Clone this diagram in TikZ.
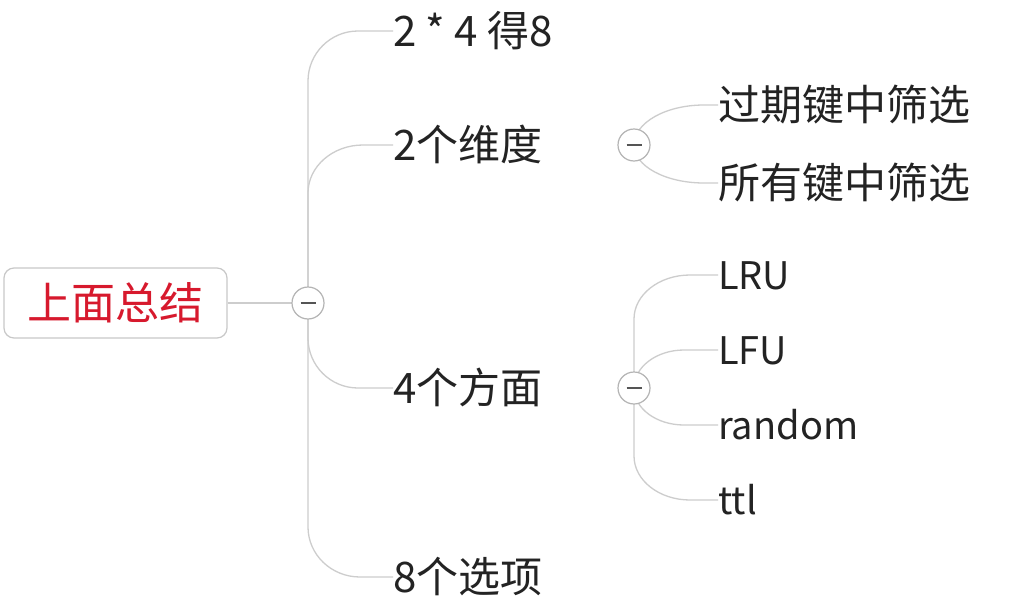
\documentclass[tikz,border=0pt]{standalone}
\usepackage{fontspec}
\setmainfont{Noto Sans CJK SC}
\usetikzlibrary{calc}
\definecolor{conngray}{RGB}{205,205,205}
\definecolor{btngray}{RGB}{180,180,180}
\definecolor{minusgray}{RGB}{85,85,85}
\definecolor{boxgray}{RGB}{200,200,200}
\definecolor{rootred}{RGB}{215,25,45}
\definecolor{txt}{RGB}{35,35,35}
\pgfdeclarelayer{bg}
\pgfsetlayers{bg,main}
\begin{document}
\begin{tikzpicture}[x=1pt,y=-1pt,
  conn/.style={draw=conngray, line width=1.3pt},
  branch/.style 2 args={to path={(\tikztostart) -- ($(\tikztostart |- \tikztotarget)+(0,#1)$)
     .. controls ($(\tikztostart |- \tikztotarget)+(0,{0.448*(#1)})$) and ($(\tikztostart |- \tikztotarget)+({0.448*(#2)},0)$)
     .. ($(\tikztostart |- \tikztotarget)+(#2,0)$) -- (\tikztotarget)}},
  topic/.style={anchor=west, inner sep=0pt, text=txt, font=\fontsize{42}{50}\selectfont, text height=34.5pt, text depth=2.6pt},
  ltopic/.style={topic, font=\fontsize{38}{45}\selectfont, text height=31pt, text depth=2.3pt},
  rootbox/.style={draw=boxgray, line width=1.2pt, rounded corners=10pt, fill=white, inner sep=0pt,
     minimum width=223pt, minimum height=70pt, text=rootred, font=\fontsize{44}{50}\selectfont, text height=36pt, text depth=2.6pt},
  btn/.style={circle, draw=btngray, fill=white, line width=1.2pt, minimum size=32pt, inner sep=0pt,
     path picture={\draw[line width=1.8pt, minusgray] ([xshift=-7.5pt]path picture bounding box.center) -- ([xshift=7.5pt]path picture bounding box.center);}}
]
\useasboundingbox (0,0) rectangle (1012,605);

% nodes
\node[rootbox] (root) at (115.5,303) {上面总结};
\node[btn] (b1) at (308,303) {};
\node[topic] (t1) at (393,31) {2 * 4 得8};
\node[topic] (t2) at (393,145) {2个维度};
\node[topic] (t3) at (393,388) {4个方面};
\node[topic] (t4) at (393,577) {8个选项};
\node[btn] (b2) at (634,145) {};
\node[topic] (s1) at (718,105) {过期键中筛选};
\node[topic] (s2) at (718,183) {所有键中筛选};
\node[btn] (b3) at (634,388) {};
\node[ltopic] (l1) at (718,275) {LRU};
\node[ltopic] (l2) at (718,350) {LFU};
\node[ltopic] (l3) at (718,425) {random};
\node[ltopic] (l4) at (718,500) {ttl};

% background and connectors
\begin{pgfonlayer}{bg}
\fill[white] (0,0) rectangle (1012,605);
\draw[conn] (root.east) -- (b1.center);
\draw[conn] (b1.center) to[branch={50}{50}] (t1.west);
\draw[conn] (b1.center) to[branch={48}{55}] (t2.west);
\draw[conn] (b1.center) to[branch={-50}{50}] (t3.west);
\draw[conn] (b1.center) to[branch={-50}{52}] (t4.west);
\draw[conn] (b2.center) to[branch={40}{70}] (s1.west);
\draw[conn] (b2.center) to[branch={-38}{70}] (s2.west);
\draw[conn] (b3.center) to[branch={44}{56}] (l1.west);
\draw[conn] (b3.center) to[branch={38}{50}] (l2.west);
\draw[conn] (b3.center) to[branch={-37}{50}] (l3.west);
\draw[conn] (b3.center) to[branch={-44}{56}] (l4.west);
\end{pgfonlayer}
\end{tikzpicture}
\end{document}
